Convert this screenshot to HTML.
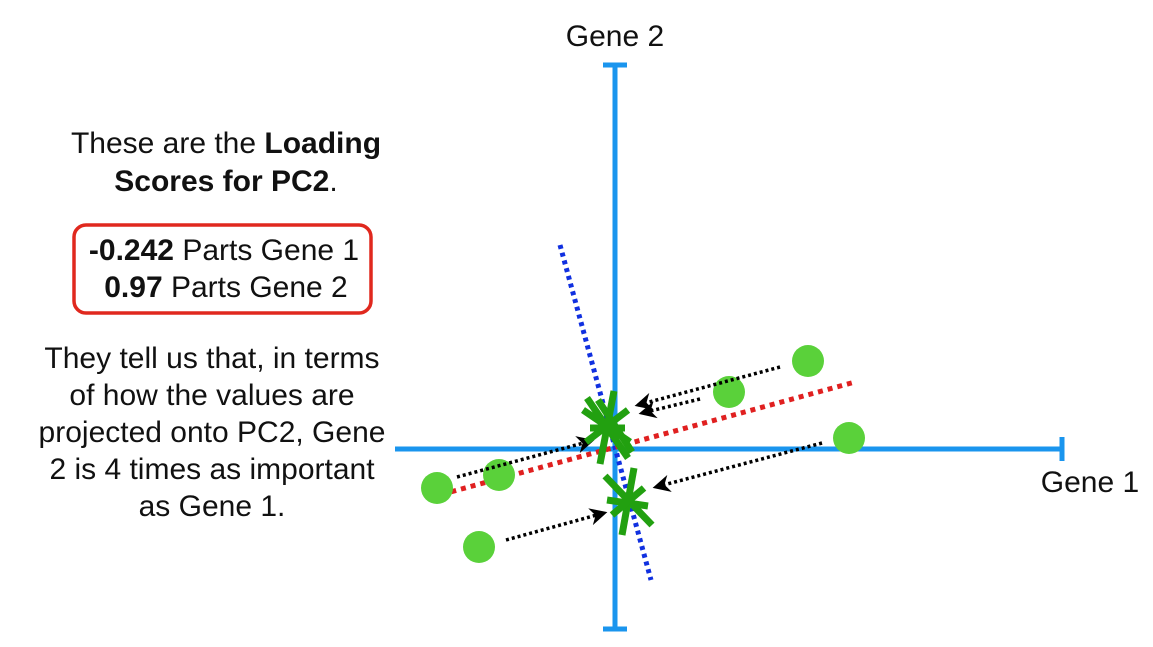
<!DOCTYPE html>
<html><head><style>body{margin:0;background:#fff}svg{display:block}text{font-family:"Liberation Sans",sans-serif;font-size:30px;fill:#111}</style></head>
<body>
<svg width="1153" height="647" viewBox="0 0 1153 647">
<defs><marker id="ah" viewBox="0 0 10 10" refX="8" refY="5" markerWidth="5" markerHeight="5" orient="auto"><path d="M0,0 L10,5 L0,10 L3,5z" fill="#000"/></marker></defs>
<g stroke="#1a95ee" stroke-width="5">
<line x1="615" y1="65" x2="615" y2="629"/><line x1="603" y1="65" x2="627" y2="65"/><line x1="603" y1="629" x2="627" y2="629"/>
<line x1="395" y1="449" x2="1062" y2="449"/><line x1="1062" y1="437" x2="1062" y2="461"/>
</g>
<text x="615" y="46" text-anchor="middle">Gene 2</text>
<text x="1090" y="492" text-anchor="middle">Gene 1</text>
<line x1="560" y1="245" x2="651" y2="580" stroke="#1030e0" stroke-width="5" stroke-dasharray="4 4"/>
<line x1="432" y1="497" x2="855" y2="382" stroke="#e02020" stroke-width="5" stroke-dasharray="5 5"/>
<g fill="#5ad13a">
<circle cx="808" cy="361" r="16"/><circle cx="729" cy="392" r="16"/><circle cx="849" cy="438" r="16"/>
<circle cx="437" cy="488" r="16"/><circle cx="499" cy="475" r="16"/><circle cx="479" cy="547" r="16"/>
</g>
<g stroke="#000" stroke-width="3.5" stroke-dasharray="3 3" fill="none" marker-end="url(#ah)">
<line x1="780" y1="367" x2="638" y2="405"/>
<line x1="700" y1="399" x2="642" y2="413"/>
<line x1="457" y1="477" x2="591" y2="441"/>
<line x1="822" y1="443" x2="656" y2="487"/>
<line x1="506" y1="540" x2="604" y2="513"/>
</g>
<g stroke="#22a010" stroke-width="7">
<line x1="587" y1="398" x2="628" y2="458"/><line x1="614" y1="391" x2="600" y2="464"/>
<line x1="583" y1="410" x2="630" y2="442"/><line x1="586" y1="442" x2="628" y2="410"/>
<line x1="598" y1="400" x2="632" y2="452"/><line x1="590" y1="428" x2="625" y2="428"/>
<line x1="605" y1="476" x2="652" y2="525"/><line x1="634" y1="468" x2="622" y2="535"/>
<line x1="607" y1="500" x2="648" y2="506"/><line x1="612" y1="515" x2="644" y2="488"/>
</g>
<text x="226" y="153" text-anchor="middle">These are the <tspan font-weight="bold">Loading</tspan></text>
<text x="226" y="191" text-anchor="middle"><tspan font-weight="bold">Scores for PC2</tspan>.</text>
<rect x="74" y="225" width="297" height="88" rx="12" fill="none" stroke="#e0281e" stroke-width="3.5"/>
<text x="224" y="260" text-anchor="middle"><tspan font-weight="bold">-0.242</tspan> Parts Gene 1</text>
<text x="226" y="297" text-anchor="middle"><tspan font-weight="bold">0.97</tspan> Parts Gene 2</text>
<text x="212" y="368" text-anchor="middle">They tell us that, in terms</text>
<text x="212" y="405" text-anchor="middle">of how the values are</text>
<text x="212" y="442" text-anchor="middle">projected onto PC2, Gene</text>
<text x="212" y="479" text-anchor="middle">2 is 4 times as important</text>
<text x="212" y="516" text-anchor="middle">as Gene 1.</text>
</svg>
</body></html>
